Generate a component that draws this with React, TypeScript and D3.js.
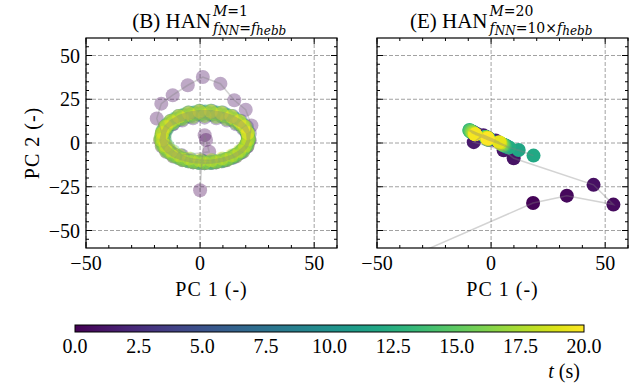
import React from "react";
import * as d3 from "d3";

const W = 639;
const H = 388;
const T_MAX = 20;
const FONT = "'Liberation Serif', 'DejaVu Serif', serif";
const MATH_FONT = "'DejaVu Serif', serif";

// panel (B): transient then ring loops, sampled evenly in time
const leftEarlyX = [0, 0.8, 2, 2.6, 4, -8, -16, -19, -17, -12, -5.4, 1.2, 8.9, 15, 20, 22.5];
const leftEarlyY = [-27, -10, 4.5, 1.7, -5, -7, 3, 14, 22.5, 27.3, 33, 37.7, 33.9, 24.4, 19, 10];
const leftLoopsX = [
  [21.5, 20.8, 18.9, 15.8, 11.8, 7.1, 2, -3.1, -7.8, -11.8, -14.9, -16.8, -17.5, -16.8, -14.9, -11.8, -7.8, -3.1, 2, 7.1, 11.8, 15.8, 18.9, 20.8],
  [21.8, 20.5, 18.0, 14.4, 10.0, 5.1, -0.1, -5.0, -9.4, -13.0, -15.5, -16.8, -16.8, -15.5, -13.0, -9.4, -5.0, -0.1, 5.1, 10.0, 14.4, 18.0, 20.5, 21.8],
  [21, 20.4, 18.5, 15.4, 11.5, 6.9, 2, -2.9, -7.5, -11.4, -14.5, -16.4, -17, -16.4, -14.5, -11.4, -7.5, -2.9, 2, 6.9, 11.5, 15.4, 18.5, 20.4],
  [20.8, 19.6, 17.2, 13.8, 9.6, 4.9, 0.1, -4.6, -8.8, -12.2, -14.6, -15.8, -15.8, -14.6, -12.2, -8.8, -4.6, 0.1, 4.9, 9.6, 13.8, 17.2, 19.6, 20.8],
  [21.0, 20.4, 18.5, 15.5, 11.6, 7.1, 2.2, -2.7, -7.2, -11.1, -14.1, -16.0, -16.6, -16.0, -14.1, -11.1, -7.2, -2.7, 2.2, 7.1, 11.6, 15.5, 18.5, 20.4],
  [20.8, 19.6, 17.1, 13.6, 9.3, 4.5, -0.5, -5.3, -9.6, -13.1, -15.6, -16.8, -16.8, -15.6, -13.1, -9.6, -5.3, -0.5, 4.5, 9.3, 13.6, 17.1, 19.6, 20.8],
  [21.0, 20.4, 18.5, 15.6, 11.8, 7.3, 2.5, -2.3, -6.8, -10.6, -13.5, -15.4, -16.0, -15.4, -13.5, -10.6, -6.8, -2.3, 2.5, 7.3, 11.8, 15.6, 18.5, 20.4],
  [20.9, 19.7, 17.2, 13.8, 9.5, 4.8, -0.2, -4.9, -9.2, -12.6, -15.1, -16.3, -16.3, -15.1, -12.6, -9.2, -4.9, -0.2, 4.8, 9.5, 13.8, 17.2, 19.7, 20.9],
  [21.3, 20.6, 18.7, 15.6, 11.6, 7.0, 2, -3.0, -7.6, -11.6, -14.7, -16.6, -17.3, -16.6, -14.7, -11.6, -7.6, -3.0, 2, 7.0, 11.6, 15.6, 18.7, 20.6],
  [21.0, 19.8, 17.3, 13.8, 9.5, 4.7, -0.3, -5.1, -9.4, -12.9, -15.4, -16.6, -16.6, -15.4, -12.9, -9.4, -5.1, -0.3, 4.7, 9.5, 13.8, 17.3, 19.8, 21.0],
  [21, 20.4, 18.5, 15.4, 11.5, 6.9, 2, -2.9, -7.5, -11.4, -14.5, -16.4, -17, -16.4, -14.5, -11.4, -7.5, -2.9, 2, 6.9, 11.5, 15.4, 18.5, 20.4],
  [21.3, 20.1, 17.7, 14.3, 10.1, 5.4, 0.6, -4.1, -8.3, -11.7, -14.1, -15.3, -15.3, -14.1, -11.7, -8.3, -4.1, 0.6, 5.4, 10.1, 14.3, 17.7, 20.1, 21.3],
  [21.3, 20.6, 18.7, 15.6, 11.6, 7.0, 2, -3.0, -7.6, -11.6, -14.7, -16.6, -17.3, -16.6, -14.7, -11.6, -7.6, -3.0, 2, 7.0, 11.6, 15.6, 18.7, 20.6],
  [20.8, 19.6, 17.1, 13.6, 9.3, 4.5, -0.5, -5.3, -9.6, -13.1, -15.6, -16.8, -16.8, -15.6, -13.1, -9.6, -5.3, -0.5, 4.5, 9.3, 13.6, 17.1, 19.6, 20.8],
  [21.5, 20.8, 18.9, 15.8, 11.8, 7.1, 2, -3.1, -7.8, -11.8, -14.9, -16.8, -17.5, -16.8, -14.9, -11.8, -7.8, -3.1, 2, 7.1, 11.8, 15.8, 18.9, 20.8],
  [20.9, 19.7, 17.2, 13.8, 9.5, 4.8, -0.2, -4.9, -9.2, -12.6, -15.1, -16.3, -16.3, -15.1, -12.6, -9.2, -4.9, -0.2, 4.8, 9.5, 13.8, 17.2, 19.7, 20.9],
];
const leftLoopsY = [
  [1.5, -1.9, -5.0, -7.7, -9.8, -11.1, -11.5, -11.1, -9.8, -7.7, -5.0, -1.9, 1.5, 4.9, 8.0, 10.7, 12.8, 14.1, 14.5, 14.1, 12.8, 10.7, 8.0, 4.9],
  [1.5, -2.3, -5.6, -8.4, -10.4, -11.4, -11.4, -10.4, -8.4, -5.6, -2.3, 1.5, 5.5, 9.3, 12.6, 15.4, 17.4, 18.4, 18.4, 17.4, 15.4, 12.6, 9.3, 5.5],
  [3, -0.8, -4.3, -7.3, -9.6, -11.0, -11.5, -11.0, -9.6, -7.3, -4.3, -0.8, 3, 6.8, 10.3, 13.3, 15.6, 17.0, 17.5, 17.0, 15.6, 13.3, 10.3, 6.8],
  [0.7, -2.7, -5.7, -8.2, -10.0, -10.9, -10.9, -10.0, -8.2, -5.7, -2.7, 0.7, 4.3, 7.7, 10.7, 13.2, 15.0, 15.9, 15.9, 15.0, 13.2, 10.7, 7.7, 4.3],
  [3, -0.6, -4.0, -6.9, -9.1, -10.5, -11.0, -10.5, -9.1, -6.9, -4.0, -0.6, 3, 6.6, 10.0, 12.9, 15.1, 16.5, 17.0, 16.5, 15.1, 12.9, 10.0, 6.6],
  [0.7, -2.9, -6.0, -8.6, -10.4, -11.4, -11.4, -10.4, -8.6, -6.0, -2.9, 0.7, 4.3, 7.9, 11.0, 13.6, 15.4, 16.4, 16.4, 15.4, 13.6, 11.0, 7.9, 4.3],
  [3.5, -0.3, -3.8, -6.8, -9.1, -10.5, -11.0, -10.5, -9.1, -6.8, -3.8, -0.3, 3.5, 7.3, 10.8, 13.8, 16.1, 17.5, 18.0, 17.5, 16.1, 13.8, 10.8, 7.3],
  [1.2, -2.4, -5.5, -8.1, -9.9, -10.9, -10.9, -9.9, -8.1, -5.5, -2.4, 1.2, 4.8, 8.4, 11.5, 14.1, 15.9, 16.9, 16.9, 15.9, 14.1, 11.5, 8.4, 4.8],
  [2, -1.5, -4.8, -7.5, -9.7, -11.0, -11.5, -11.0, -9.7, -7.5, -4.8, -1.5, 2, 5.5, 8.8, 11.5, 13.7, 15.0, 15.5, 15.0, 13.7, 11.5, 8.8, 5.5],
  [1.5, -2.3, -5.6, -8.4, -10.4, -11.4, -11.4, -10.4, -8.4, -5.6, -2.3, 1.5, 5.5, 9.3, 12.6, 15.4, 17.4, 18.4, 18.4, 17.4, 15.4, 12.6, 9.3, 5.5],
  [3.5, -0.3, -3.8, -6.8, -9.1, -10.5, -11.0, -10.5, -9.1, -6.8, -3.8, -0.3, 3.5, 7.3, 10.8, 13.8, 16.1, 17.5, 18.0, 17.5, 16.1, 13.8, 10.8, 7.3],
  [1.7, -1.7, -4.7, -7.2, -9.0, -9.9, -9.9, -9.0, -7.2, -4.7, -1.7, 1.7, 5.3, 8.7, 11.7, 14.2, 16.0, 16.9, 16.9, 16.0, 14.2, 11.7, 8.7, 5.3],
  [3, -0.6, -4.0, -6.9, -9.1, -10.5, -11.0, -10.5, -9.1, -6.9, -4.0, -0.6, 3, 6.6, 10.0, 12.9, 15.1, 16.5, 17.0, 16.5, 15.1, 12.9, 10.0, 6.6],
  [1.5, -2.3, -5.6, -8.4, -10.4, -11.4, -11.4, -10.4, -8.4, -5.6, -2.3, 1.5, 5.5, 9.3, 12.6, 15.4, 17.4, 18.4, 18.4, 17.4, 15.4, 12.6, 9.3, 5.5],
  [2, -1.5, -4.8, -7.5, -9.7, -11.0, -11.5, -11.0, -9.7, -7.5, -4.8, -1.5, 2, 5.5, 8.8, 11.5, 13.7, 15.0, 15.5, 15.0, 13.7, 11.5, 8.8, 5.5],
  [2.2, -1.4, -4.5, -7.1, -8.9, -9.9, -9.9, -8.9, -7.1, -4.5, -1.4, 2.2, 5.8, 9.4, 12.5, 15.1, 16.9, 17.9, 17.9, 16.9, 15.1, 12.5, 9.4, 5.8],
];

// panel (E): fast transient then oscillation on a short segment
const rightT = [
  0, 0.2, 0.4, 0.6, 0.8, 1.0, 1.2, 1.4, 1.6, 1.8,
  2.0, 2.25, 2.5, 2.75, 3.0, 3.25, 3.5, 3.75, 4.0, 4.25, 4.5, 4.75, 5.0, 5.25, 5.5, 5.75,
  6.0, 6.25, 6.5, 6.75, 7.0, 7.25, 7.5, 7.75, 8.0, 8.25, 8.5, 8.75, 9.0, 9.25, 9.5, 9.75,
  10.0, 10.25, 10.5, 10.75, 11.0, 11.25, 11.5, 11.75, 12.0, 12.25, 12.5, 12.75, 13.0, 13.25,
  13.5, 13.75, 14.0, 14.25, 14.5, 14.75, 15.0, 15.25, 15.5, 15.75, 16.0, 16.25, 16.5, 16.75,
  17.0, 17.25, 17.5, 17.75, 18.0, 18.25, 18.5, 18.75, 19.0, 19.25, 19.5, 19.75, 20.0,
];
const rightX = [
  -60, 18.4, 33.2, 53.6, 44.9, 9.9, 5.5, -7.6, -3.4, 2.0,
  -6.0, -1.0, 4.5, -0.5, -7.0, -1.5, 5.0, -1.0, -7.5, -1.5, 5.5, -1.0, -8.0, -2.0, 5.5, -1.0,
  -8.0, -2.0, 6.0, -1.5, -8.5, -2.0, 6.0, -1.5, -8.5, -2.5, 6.5, -1.0, -8.5, -2.0, 6.5, -1.5,
  -9.0, -2.5, 7.0, -1.5, -9.0, -2.0, 7.5, 12.1, 18.6, 8.0, -1.0, -9.5, -2.5, 6.0,
  -1.5, -9.5, -2.5, 5.5, -1.5, -9.0, -2.0, 5.0, -1.5, -8.5, -2.0, 4.5, -1.5, -8.0,
  -2.0, 4.0, -1.5, -7.5, -2.0, 4.0, -1.5, -7.0, -1.5, 3.5, -1.5, -7.0, -1.5,
];
const rightY = [
  -79, -34.3, -30.1, -35.2, -23.9, -8.7, -4.2, 0.5, 4.5, 1.5,
  5.0, 2.5, -0.5, 2.0, 5.5, 3.0, -1.0, 2.5, 6.0, 3.0, -1.5, 2.0, 6.0, 3.0, -1.0, 2.5,
  6.5, 3.5, -1.5, 2.5, 6.5, 3.0, -1.5, 2.0, 6.0, 3.5, -2.0, 2.5, 6.5, 3.0, -1.5, 2.5,
  7.0, 3.5, -2.0, 2.0, 6.5, 3.0, -2.5, -4.0, -7.2, -2.5, 2.5, 7.5, 3.5, -1.5,
  2.5, 7.0, 3.5, -1.0, 2.5, 7.0, 3.0, -1.0, 2.5, 6.5, 3.0, -0.5, 2.0, 6.0,
  3.0, 0.0, 2.5, 5.5, 3.0, 0.0, 2.5, 5.0, 3.0, 0.5, 2.5, 5.0, 2.5,
];

const xMajor = [-50, 0, 50];
const yMajor = [-50, -25, 0, 25, 50];
const cbTicks = [0, 2.5, 5, 7.5, 10, 12.5, 15, 17.5, 20];

const leftX = leftEarlyX.concat(...leftLoopsX);
const leftY = leftEarlyY.concat(...leftLoopsY);
const leftT = leftX.map((_, i) => (T_MAX * i) / (leftX.length - 1));

const PW = 251;
const PT = 38;
const PB = 248;

const fmt = (v: number) => (v < 0 ? "\u2212" + Math.abs(v) : String(v));

function Panel({ id, x0, xs, ys, ts, alpha, yLabels }: any) {
  const x = d3.scaleLinear().domain([-50, 60]).range([x0, x0 + PW]);
  const y = d3.scaleLinear().domain([-60, 60]).range([PB, PT]);
  const idx = d3.range(xs.length);
  const path = d3
    .line<number>()
    .x((i) => x(xs[i]))
    .y((i) => y(ys[i]))(idx);
  const xMinor = d3.range(-40, 61, 10).filter((v) => !xMajor.includes(v));
  const yMinor = d3.range(-55, 56, 5).filter((v) => !yMajor.includes(v));

  return (
    <g>
      <defs>
        <clipPath id={id}>
          <rect x={x0} y={PT} width={PW} height={PB - PT} />
        </clipPath>
      </defs>
      {/* grid */}
      {xMajor.map((v) => (
        <line key={"gx" + v} x1={x(v)} x2={x(v)} y1={PT} y2={PB} stroke="#8a8a8a" strokeWidth={0.8} strokeDasharray="4,2" />
      ))}
      {yMajor.map((v) => (
        <line key={"gy" + v} x1={x0} x2={x0 + PW} y1={y(v)} y2={y(v)} stroke="#8a8a8a" strokeWidth={0.8} strokeDasharray="4,2" />
      ))}
      <g clipPath={`url(#${id})`}>
        {idx.map((i) => (
          <circle key={i} cx={x(xs[i])} cy={y(ys[i])} r={7} fill={d3.interpolateViridis(ts[i] / T_MAX)} fillOpacity={alpha} />
        ))}
        <path d={path || ""} fill="none" stroke="gray" strokeOpacity={0.35} strokeWidth={1.5} />
      </g>
      {/* ticks, inward on all sides */}
      {xMajor.concat(xMinor).map((v) => {
        const len = xMajor.includes(v) ? 6 : 3;
        return (
          <g key={"tx" + v} stroke="black" strokeWidth={1}>
            <line x1={x(v)} x2={x(v)} y1={PB} y2={PB - len} />
            <line x1={x(v)} x2={x(v)} y1={PT} y2={PT + len} />
          </g>
        );
      })}
      {yMajor.concat(yMinor).map((v) => {
        const len = yMajor.includes(v) ? 6 : 3;
        return (
          <g key={"ty" + v} stroke="black" strokeWidth={1}>
            <line x1={x0} x2={x0 + len} y1={y(v)} y2={y(v)} />
            <line x1={x0 + PW} x2={x0 + PW - len} y1={y(v)} y2={y(v)} />
          </g>
        );
      })}
      <rect x={x0} y={PT} width={PW} height={PB - PT} fill="none" stroke="black" strokeWidth={1.2} />
      {xMajor.map((v) => (
        <text key={"lx" + v} x={x(v)} y={270} textAnchor="middle" fontSize={20}>
          {fmt(v)}
        </text>
      ))}
      {yLabels &&
        yMajor.map((v) => (
          <text key={"ly" + v} x={x0 - 6} y={y(v) + 7} textAnchor="end" fontSize={20}>
            {fmt(v)}
          </text>
        ))}
      <text x={x0 + PW / 2} y={296} textAnchor="middle" fontSize={20} letterSpacing={1}>
        PC 1 (-)
      </text>
    </g>
  );
}

function Title({ end, label, m, factor }: any) {
  return (
    <g>
      <text x={end} y={28} textAnchor="end" fontSize={21}>
        {label} HAN
      </text>
      <text x={end + 2} y={16} fontSize={14} fontFamily={MATH_FONT}>
        <tspan fontStyle="italic">M</tspan>={m}
      </text>
      <text x={end + 2} y={33} fontSize={14} fontFamily={MATH_FONT}>
        <tspan fontStyle="italic">f</tspan>
        <tspan fontStyle="italic" fontSize={12} dy={2}>NN</tspan>
        <tspan dy={-2}>={factor}</tspan>
        <tspan fontStyle="italic">f</tspan>
        <tspan fontStyle="italic" fontSize={12} dy={2}>hebb</tspan>
      </text>
    </g>
  );
}

export default function App() {
  const cb = d3.scaleLinear().domain([0, T_MAX]).range([75, 584]);
  const stops = d3.range(0, 1.0001, 0.05);
  return (
    <svg width={W} height={H} style={{ position: "absolute", left: 0, top: 0, background: "white" }} fontFamily={FONT}>
      <defs>
        <linearGradient id="viridis" x1="0" x2="1" y1="0" y2="0">
          {stops.map((s) => (
            <stop key={s} offset={s} stopColor={d3.interpolateViridis(s)} />
          ))}
        </linearGradient>
      </defs>
      <Panel id="clipL" x0={86} xs={leftX} ys={leftY} ts={leftT} alpha={0.35} yLabels={true} />
      <Panel id="clipR" x0={377} xs={rightX} ys={rightY} ts={rightT} alpha={1} yLabels={false} />
      <Title end={211} label="(B)" m="1" factor="" />
      <Title end={487.5} label="(E)" m="20" factor={"10\u00d7"} />
      <text transform="translate(39,143) rotate(-90)" textAnchor="middle" fontSize={20} letterSpacing={1}>
        PC 2 (-)
      </text>
      {/* colorbar */}
      <rect x={cb(0)} y={325} width={cb(T_MAX) - cb(0)} height={7} fill="url(#viridis)" stroke="black" strokeWidth={1} />
      {cbTicks.map((v) => (
        <text key={v} x={cb(v)} y={353} textAnchor="middle" fontSize={20}>
          {v.toFixed(1)}
        </text>
      ))}
      <text x={564} y={378} textAnchor="middle" fontSize={20}>
        <tspan fontStyle="italic">t</tspan> (s)
      </text>
    </svg>
  );
}
